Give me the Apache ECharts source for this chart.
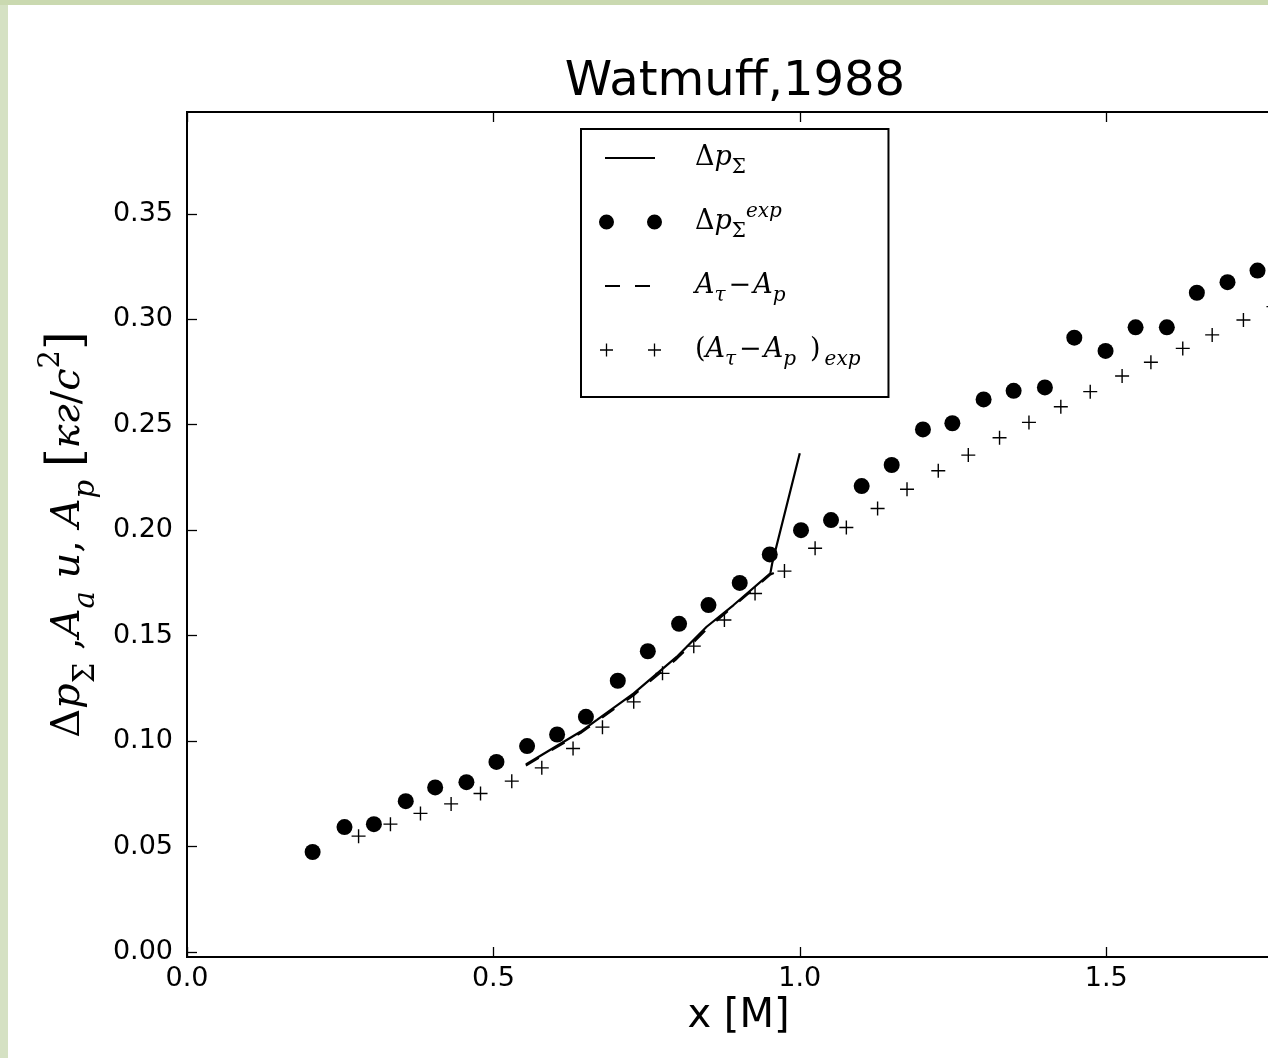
<!DOCTYPE html>
<html><head><meta charset="utf-8">
<script src="https://cdn.jsdelivr.net/npm/echarts@6/dist/echarts.min.js"></script>
<style>
html,body{margin:0;padding:0;background:#fff;}
#chart{position:absolute;left:0;top:0;width:1268px;height:1058px;}
#bl{position:absolute;left:0;top:0;width:8px;height:1058px;background:#d5e1c3;z-index:2}
#bt{position:absolute;left:0;top:0;width:1268px;height:5px;background:#cad9b0;z-index:2}
</style></head><body>
<div id="chart"></div><div id="bl"></div><div id="bt"></div>
<script>
// ---- data ----
const dotX = [0.205,0.257,0.305,0.357,0.405,0.456,0.505,0.555,0.604,0.651,0.703,0.752,0.803,0.851,0.902,0.951,1.002,1.051,1.101,1.150,1.201,1.249,1.300,1.349,1.400,1.448,1.499,1.548,1.599,1.648,1.698,1.747];
const dotY = [0.0474,0.0592,0.0606,0.0715,0.0780,0.0805,0.0901,0.0976,0.1031,0.1115,0.1286,0.1426,0.1556,0.1645,0.1750,0.1885,0.2000,0.2048,0.2209,0.2309,0.2478,0.2507,0.2620,0.2661,0.2677,0.2913,0.2850,0.2962,0.2962,0.3126,0.3176,0.3231];
const plusX = [0.280,0.332,0.381,0.431,0.479,0.530,0.579,0.630,0.678,0.729,0.776,0.827,0.877,0.927,0.975,1.025,1.076,1.127,1.175,1.226,1.275,1.326,1.374,1.426,1.474,1.526,1.573,1.625,1.673,1.724,1.773];
const plusY = [0.0549,0.0606,0.0657,0.0702,0.0751,0.0810,0.0873,0.0965,0.1066,0.1186,0.1321,0.1450,0.1574,0.1700,0.1806,0.1914,0.2013,0.2103,0.2194,0.2282,0.2356,0.2438,0.2511,0.2585,0.2657,0.2731,0.2796,0.2862,0.2926,0.2997,0.3060];
const lineX = [0.553,0.642,0.669,0.729,0.799,0.848,0.892,0.952,0.955,1.000];
const lineY = [0.0889,0.1044,0.1100,0.1226,0.1399,0.1542,0.1645,0.1795,0.1843,0.2365];
const dashX = [0.553,0.642,0.729,0.799,0.848,0.892,0.952,0.975];
const dashY = [0.0884,0.1038,0.1218,0.1390,0.1530,0.1640,0.1790,0.1818];
const xTicks = [0, 0.5, 1.0, 1.5];
const yTicks = [0, 0.05, 0.10, 0.15, 0.20, 0.25, 0.30, 0.35];
const titleText = 'Watmuff,1988';
const xName = 'x [М]';

const zip = (a, b) => a.map((v, i) => [v, b[i]]);
const SANS = 'DejaVu Sans';
const MATH = 'DejaVu Serif';
const plusPath = 'path://M6.3,0H7.7V6.3H14V7.7H7.7V14H6.3V7.7H0V6.3H6.3Z';
const B = 'M0,0L0,16Z M64,0L64,16Z ';
const icons = {
  line: 'path://' + B + 'M7,6.9H57V9.1H7Z',
  dots: 'path://' + B + 'M1,8A7.5,7.5,0,1,0,16,8A7.5,7.5,0,1,0,1,8Z M49,8A7.5,7.5,0,1,0,64,8A7.5,7.5,0,1,0,49,8Z',
  dash: 'path://' + B + 'M7,6.9H22V9.1H7Z M37,6.9H52V9.1H37Z',
  plus: 'path://' + B + 'M7.85,1.5H9.15V7.35H15V8.65H9.15V14.5H7.85V8.65H2V7.35H7.85Z M55.85,1.5H57.15V7.35H63V8.65H57.15V14.5H55.85V8.65H50V7.35H55.85Z'
};
const legendLabels = {
  dp: '{sp| }{r|Δ}{i|p}{s|Σ}',
  dpexp: '{sp| }{r|Δ}{i|p}{s|Σ}{e|exp}',
  at: '{sp| }{i|A}{si|τ}{m|−}{i|A}{si|p}',
  atexp: '{sp| }{r|(}{i|A}{si|τ}{m|−}{i|A}{si|p}{rp|)}{si|exp}'
};
const yName = '{R|Δ}{I|p}{S|Σ}{R| ,}{I|A}{SI|a}{I| u}{R|, }{I|A}{SI|p}{R| }{BR|[}{I|кг}{R|/}{I|c}{P|2}{BR|]}';

const chart = echarts.init(document.getElementById('chart'));
chart.setOption({
  animation: false,
  backgroundColor: '#fff',
  color: ['#000'],
  title: {
    text: titleText, left: 735, top: 59, padding: 0, textAlign: 'center',
    textStyle: {fontFamily: SANS, fontSize: 48, fontWeight: 'normal', color: '#000'}
  },
  grid: {left: 187, top: 112, width: 1103, height: 845, show: true, borderColor: '#000', borderWidth: 2,
         outerBoundsMode: 'none', containLabel: false},
  legend: {
    left: 581, top: 129, orient: 'vertical', selectedMode: false,
    itemWidth: 64, itemHeight: 16, itemGap: 24,
    padding: [9, 28, 27, 17],
    borderColor: '#000', borderWidth: 2, backgroundColor: '#fff',
    itemStyle: {borderWidth: 0},
    data: [
      {name: 'dp', icon: icons.line, itemStyle: {color: '#000', borderWidth: 0}},
      {name: 'dpexp', icon: icons.dots, itemStyle: {color: '#000', borderWidth: 0}},
      {name: 'at', icon: icons.dash, itemStyle: {color: '#000', borderWidth: 0}},
      {name: 'atexp', icon: icons.plus, itemStyle: {color: '#000', borderWidth: 0}}
    ],
    formatter: n => legendLabels[n],
    textStyle: {
      color: '#000', fontFamily: MATH, fontSize: 27, lineHeight: 40,
      rich: {
        sp: {width: 28, fontSize: 27, lineHeight: 40},
        r: {fontFamily: MATH, fontSize: 27, lineHeight: 40, color: '#000'},
        rp: {fontFamily: MATH, fontSize: 27, lineHeight: 40, color: '#000', padding: [0, 4, 0, 14]},
        m: {fontFamily: MATH, fontSize: 27, lineHeight: 40, color: '#000', padding: [0, 2, 0, 3]},
        i: {fontFamily: MATH, fontStyle: 'italic', fontSize: 27, lineHeight: 40, color: '#000'},
        s: {fontFamily: MATH, fontSize: 20, lineHeight: 24, verticalAlign: 'bottom', color: '#000'},
        si: {fontFamily: MATH, fontStyle: 'italic', fontSize: 20, lineHeight: 24, verticalAlign: 'bottom', color: '#000'},
        e: {fontFamily: MATH, fontStyle: 'italic', fontSize: 20, lineHeight: 8, verticalAlign: 'top', color: '#000'}
      }
    }
  },
  xAxis: [{
    type: 'value', min: 0, max: 1.8, position: 'bottom',
    name: xName, nameLocation: 'middle', nameGap: 40,
    nameTextStyle: {fontFamily: SANS, fontSize: 40, color: '#000'},
    axisLine: {show: true, onZero: false, lineStyle: {color: '#000', width: 2}},
    axisTick: {inside: true, length: 10, customValues: xTicks, lineStyle: {color: '#000', width: 1.3}},
    axisLabel: {customValues: xTicks, margin: 8, fontFamily: SANS, fontSize: 27, color: '#000', formatter: v => v.toFixed(1)},
    splitLine: {show: false}
  }, {
    type: 'value', min: 0, max: 1.8, position: 'top',
    axisLine: {show: true, onZero: false, lineStyle: {color: '#000', width: 2}},
    axisTick: {inside: true, length: 10, customValues: xTicks, lineStyle: {color: '#000', width: 1.3}},
    axisLabel: {show: false},
    splitLine: {show: false}
  }],
  yAxis: [{
    type: 'value', min: -0.0024, max: 0.3983,
    name: yName, nameLocation: 'middle', nameGap: 86, nameRotate: 90,
    nameTextStyle: {
      color: '#000', fontFamily: MATH, fontSize: 40, lineHeight: 64,
      rich: {
        R: {fontFamily: MATH, fontSize: 40, lineHeight: 64, color: '#000'},
        I: {fontFamily: MATH, fontStyle: 'italic', fontSize: 40, lineHeight: 64, color: '#000'},
        S: {fontFamily: MATH, fontSize: 29, lineHeight: 40, verticalAlign: 'bottom', color: '#000'},
        SI: {fontFamily: MATH, fontStyle: 'italic', fontSize: 29, lineHeight: 40, verticalAlign: 'bottom', color: '#000'},
        P: {fontFamily: MATH, fontSize: 29, lineHeight: 36, verticalAlign: 'top', color: '#000'},
        BR: {fontFamily: MATH, fontSize: 48, lineHeight: 64, color: '#000'}
      }
    },
    axisLine: {show: true, onZero: false, lineStyle: {color: '#000', width: 2}},
    axisTick: {inside: true, length: 10, customValues: yTicks, lineStyle: {color: '#000', width: 1.3}},
    axisLabel: {customValues: yTicks, margin: 14, fontFamily: SANS, fontSize: 27, color: '#000', formatter: v => v.toFixed(2)},
    splitLine: {show: false}
  }],
  series: [
    {name: 'dp', type: 'line', data: zip(lineX, lineY), symbol: 'none', itemStyle: {color: '#000'},
     lineStyle: {color: '#000', width: 2.2}},
    {name: 'dpexp', type: 'scatter', data: zip(dotX, dotY), symbol: 'circle', symbolSize: 16,
     itemStyle: {color: '#000', opacity: 1}},
    {name: 'at', type: 'line', data: zip(dashX, dashY), symbol: 'none', itemStyle: {color: '#000'},
     lineStyle: {color: '#000', width: 2.2, type: [15, 15]}},
    {name: 'atexp', type: 'scatter', data: zip(plusX, plusY), symbol: plusPath, symbolSize: 14,
     itemStyle: {color: '#000', opacity: 1}}
  ]
});
</script>
</body></html>
